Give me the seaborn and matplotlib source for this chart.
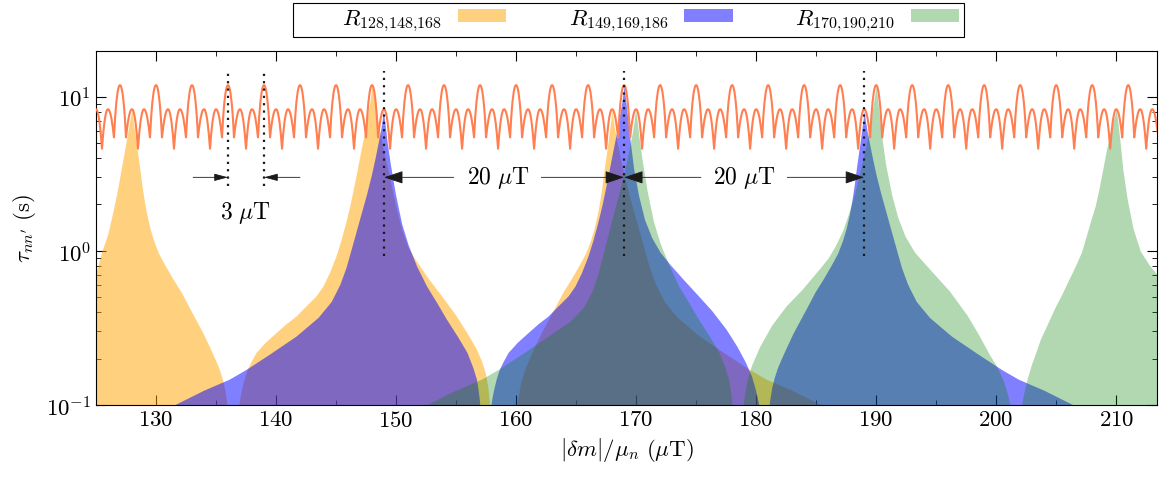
import numpy as np
import matplotlib
matplotlib.use("Agg")
import matplotlib.pyplot as plt
from matplotlib.patches import ArrowStyle
from matplotlib.ticker import MultipleLocator, NullFormatter
import seaborn as sns

# boundary of each filled region, (|dm|/mu_n in uT, tau in s)
orange_pts = [
    # peak at 128
    (124.0, 0.43), (124.5, 0.55), (125.0, 0.72), (125.5, 1.0), (126.0, 1.3), (126.4, 1.78),
    (126.7, 2.3), (126.95, 2.92), (127.2, 3.75), (127.45, 4.8), (127.65, 5.9), (127.85, 7.2),
    (128.0, 8.3), (128.12, 6.8), (128.25, 5.7), (128.4, 4.7), (128.55, 3.9), (128.7, 3.2),
    (128.85, 2.6), (129.03, 2.1), (129.25, 1.7), (129.5, 1.4), (129.8, 1.17), (130.2, 0.97),
    (130.7, 0.82), (131.4, 0.66), (132.1, 0.54), (132.7, 0.44), (133.3, 0.36), (133.9, 0.295),
    (134.44, 0.24), (134.9, 0.2), (135.22, 0.175), (135.5, 0.15), (135.7, 0.13), (135.85, 0.11),
    (135.95, 0.095), (136.1, 0.01),
    # peak at 148
    (136.7, 0.01), (136.8, 0.085), (136.9, 0.1), (137.0, 0.112), (137.15, 0.128), (137.35, 0.148),
    (137.6, 0.17), (137.9, 0.19), (138.33, 0.219), (139.1, 0.255), (140.0, 0.295), (140.8, 0.335),
    (141.67, 0.378), (142.5, 0.44), (143.33, 0.51), (143.9, 0.59), (144.44, 0.72), (145.0, 0.93),
    (145.4, 1.17), (145.8, 1.52), (146.17, 2.0), (146.6, 2.9), (147.0, 4.2), (147.3, 5.5),
    (147.55, 7.0), (147.8, 9.1), (148.0, 11.8), (148.15, 10.1), (148.45, 7.2), (149.0, 4.3),
    (149.5, 2.9), (150.0, 1.9), (150.5, 1.35), (151.0, 1.05), (151.6, 0.88), (152.7, 0.66),
    (153.8, 0.51), (154.9, 0.39), (155.9, 0.295), (156.7, 0.23), (157.15, 0.19), (157.45, 0.16),
    (157.65, 0.13), (157.75, 0.11), (157.85, 0.095), (157.95, 0.01),
    # peak at 168
    (159.9, 0.01), (160.05, 0.095), (160.15, 0.11), (160.3, 0.13), (160.5, 0.15), (160.78, 0.175),
    (161.1, 0.2), (161.56, 0.24), (162.1, 0.295), (162.7, 0.36), (163.3, 0.44), (163.9, 0.54),
    (164.6, 0.66), (165.3, 0.82), (165.8, 0.97), (166.2, 1.17), (166.5, 1.4), (166.75, 1.7),
    (166.97, 2.1), (167.15, 2.6), (167.3, 3.2), (167.45, 3.9), (167.6, 4.7), (167.75, 5.7),
    (167.88, 6.8), (168.0, 8.3), (168.1, 7.1), (168.24, 6.0), (168.44, 5.0), (168.69, 4.0),
    (169.0, 3.1), (169.39, 2.35), (169.94, 1.65), (170.5, 1.15), (171.11, 0.78), (171.61, 0.61),
    (172.0, 0.53), (172.34, 0.47), (173.44, 0.37), (175.27, 0.28), (177.44, 0.215), (179.44, 0.17),
    (180.84, 0.147), (182.94, 0.125), (185.44, 0.1), (186.44, 0.095),
]
blue_pts = [
    # peak at 149
    (130.5, 0.095), (131.5, 0.1), (134.0, 0.125), (136.1, 0.147), (137.5, 0.17), (139.5, 0.215),
    (141.67, 0.28), (143.5, 0.37), (144.6, 0.47), (144.94, 0.53), (145.33, 0.61), (145.83, 0.78),
    (146.44, 1.15), (147.0, 1.65), (147.55, 2.35), (147.94, 3.1), (148.25, 4.0), (148.5, 5.0),
    (148.7, 6.0), (148.84, 7.0), (148.94, 8.1), (149.0, 7.5), (149.09, 6.6), (149.24, 5.2),
    (149.5, 3.75), (149.92, 2.4), (150.19, 1.9), (150.47, 1.5), (151.0, 1.1), (151.7, 0.8),
    (152.55, 0.59), (153.4, 0.46), (154.2, 0.36), (155.1, 0.28), (155.9, 0.22), (156.4, 0.175),
    (156.7, 0.147), (156.84, 0.125), (156.94, 0.108), (157.0, 0.095), (157.15, 0.01),
    # peak at 169
    (157.7, 0.01), (157.8, 0.085), (157.9, 0.1), (158.0, 0.112), (158.15, 0.128), (158.35, 0.148),
    (158.6, 0.17), (158.9, 0.19), (159.33, 0.219), (160.1, 0.255), (161.0, 0.295), (161.8, 0.335),
    (162.67, 0.378), (163.5, 0.44), (164.33, 0.51), (164.9, 0.59), (165.44, 0.72), (166.0, 0.93),
    (166.4, 1.17), (166.8, 1.52), (167.17, 2.0), (167.6, 2.9), (168.0, 4.2), (168.3, 5.5),
    (168.55, 7.0), (168.8, 9.1), (169.0, 11.8), (169.15, 9.2), (169.3, 7.3), (169.5, 5.2),
    (169.8, 3.4), (170.2, 2.3), (170.7, 1.6), (171.3, 1.22), (172.0, 0.98), (172.8, 0.82),
    (173.8, 0.67), (175.0, 0.53), (176.3, 0.41), (177.5, 0.31), (178.4, 0.24), (179.1, 0.19),
    (179.6, 0.155), (179.95, 0.125), (180.15, 0.107), (180.3, 0.095), (180.45, 0.01),
    # peak at 189
    (180.9, 0.01), (181.05, 0.095), (181.15, 0.11), (181.3, 0.13), (181.5, 0.15), (181.78, 0.175),
    (182.1, 0.2), (182.56, 0.24), (183.1, 0.295), (183.7, 0.36), (184.3, 0.44), (184.9, 0.54),
    (185.6, 0.66), (186.3, 0.82), (186.8, 0.97), (187.2, 1.17), (187.5, 1.4), (187.75, 1.7),
    (187.97, 2.1), (188.15, 2.6), (188.3, 3.2), (188.45, 3.9), (188.6, 4.7), (188.75, 5.7),
    (188.88, 6.8), (189.0, 8.1), (189.1, 7.0), (189.24, 6.0), (189.44, 5.0), (189.69, 4.0),
    (190.0, 3.1), (190.39, 2.35), (190.94, 1.65), (191.5, 1.15), (192.11, 0.78), (192.61, 0.61),
    (193.0, 0.53), (193.34, 0.47), (194.44, 0.37), (196.27, 0.28), (198.44, 0.215), (200.44, 0.17),
    (201.84, 0.147), (203.94, 0.125), (206.44, 0.1), (207.44, 0.095),
]
green_pts = [
    # peak at 170
    (151.5, 0.095), (152.51, 0.1), (155.01, 0.125), (157.11, 0.147), (158.51, 0.17), (160.51, 0.215),
    (162.68, 0.28), (164.51, 0.35), (165.61, 0.43), (165.95, 0.48), (166.34, 0.55), (166.84, 0.72),
    (167.45, 1.1), (168.01, 1.62), (168.56, 2.35), (168.95, 3.1), (169.26, 4.0), (169.51, 5.0),
    (169.71, 6.0), (169.85, 7.1), (169.95, 8.3), (170.02, 7.7), (170.1, 6.8), (170.25, 5.4),
    (170.5, 3.9), (170.9, 2.5), (171.15, 2.0), (171.45, 1.55), (172.0, 1.12), (172.7, 0.82),
    (173.55, 0.59), (174.4, 0.46), (175.2, 0.36), (176.1, 0.28), (176.9, 0.22), (177.4, 0.175),
    (177.7, 0.147), (177.85, 0.125), (177.95, 0.108), (178.02, 0.095), (178.2, 0.01),
    # peak at 190
    (178.7, 0.01), (178.85, 0.09), (178.95, 0.105), (179.1, 0.125), (179.3, 0.15), (179.6, 0.18),
    (180.3, 0.24), (181.3, 0.33), (182.5, 0.44), (183.8, 0.56), (185.3, 0.77), (186.0, 0.9),
    (186.6, 1.08), (187.2, 1.35), (187.7, 1.75), (188.2, 2.35), (188.7, 3.4), (189.1, 4.6),
    (189.45, 6.4), (189.75, 8.8), (190.0, 11.8), (190.1, 10.0), (190.2, 8.4), (190.45, 5.6),
    (190.8, 3.6), (191.3, 2.3), (191.8, 1.65), (192.4, 1.25), (193.2, 0.98), (194.6, 0.74),
    (196.1, 0.55), (197.6, 0.38), (198.6, 0.28), (199.4, 0.215), (200.0, 0.18), (200.5, 0.15),
    (200.85, 0.125), (201.05, 0.108), (201.2, 0.095), (201.35, 0.01),
    # peak at 210
    (201.9, 0.01), (202.05, 0.09), (202.15, 0.105), (202.35, 0.125), (202.6, 0.15), (202.9, 0.18),
    (203.3, 0.22), (203.7, 0.27), (204.3, 0.34), (204.9, 0.43), (205.5, 0.53), (206.0, 0.64),
    (206.6, 0.8), (207.1, 0.98), (207.5, 1.25), (207.9, 1.6), (208.25, 1.96), (208.55, 2.5),
    (208.85, 3.3), (209.2, 4.6), (209.5, 5.8), (209.75, 7.0), (209.9, 7.7), (210.0, 8.3),
    (210.12, 7.0), (210.3, 5.3), (210.55, 3.4), (210.9, 2.2), (211.4, 1.4), (212.0, 1.0),
    (212.7, 0.82), (213.4, 0.7), (214.5, 0.55),
]
labels = [r"$\hspace{2.2}R_{128{,}148{,}168}$", r"$\hspace{2.2}R_{149{,}169{,}186}$",
          r"$\hspace{2.2}R_{170{,}190{,}210}$"]

# one period (3 uT, starting on a tall peak) of the oscillating curve, sampled every 0.05 uT
period_tau = [
    11.9, 11.82, 11.58, 11.2, 10.67, 10.0, 9.24, 8.38, 7.44, 6.46,
    5.45, 5.9, 6.33, 6.74, 7.13, 7.47, 7.76, 7.99, 8.16, 8.27,
    8.3, 8.26, 8.12, 7.9, 7.59, 7.22, 6.78, 6.28, 5.74, 5.18,
    4.6, 5.18, 5.74, 6.28, 6.78, 7.22, 7.59, 7.9, 8.12, 8.26,
    8.3, 8.27, 8.16, 7.99, 7.76, 7.47, 7.13, 6.74, 6.33, 5.9,
    5.45, 6.46, 7.44, 8.38, 9.24, 10.0, 10.67, 11.2, 11.58, 11.82,
]
period_start = 124.0
period_len = 3.0
n_periods = 31

short_marks = [136, 139]
long_marks = [149, 169, 189]

sns.set_theme(style="ticks", rc={
    "axes.edgecolor": "black", "axes.linewidth": 0.8,
    "xtick.color": "black", "ytick.color": "black", "text.color": "black",
    "axes.labelcolor": "black",
})
plt.rcParams.update({
    "font.family": "serif", "font.serif": ["cmr10", "DejaVu Serif"],
    "mathtext.fontset": "cm", "axes.formatter.use_mathtext": True,
})

fig, ax = plt.subplots(figsize=(11.59, 4.81), dpi=100)
fig.subplots_adjust(left=0.0828, right=0.9983, bottom=0.156, top=0.8925)

cols = [("orange", 0.5), ("blue", 0.5), ("green", 0.3)]
handles = []
for pts, (c, a), lab in zip([orange_pts, blue_pts, green_pts], cols, labels):
    xs, ys = zip(*pts)
    h = ax.fill_between(xs, 0.01, ys, color=c, alpha=a, lw=0, label=lab, zorder=1)
    handles.append(h)

# tile the periodic curve
step = period_len / len(period_tau)
line_x = [period_start + k * period_len + i * step for k in range(n_periods) for i in range(len(period_tau))]
line_y = period_tau * n_periods
sns.lineplot(x=line_x, y=line_y, ax=ax, color="coral", lw=1.5, estimator=None, sort=False, zorder=3)

for xm in short_marks:
    ax.plot([xm, xm], [2.65, 14.8], color="k", lw=1.6, ls=(0, (1, 2.3)), zorder=4)
for xm in long_marks:
    ax.plot([xm, xm], [0.92, 14.8], color="k", lw=1.6, ls=(0, (1, 2.3)), zorder=4)

small = ArrowStyle("-|>", head_length=0.6, head_width=0.16)
big = ArrowStyle("-|>", head_length=0.6, head_width=0.2)
arr_y = 3.0
def arrow(x0, x1, style, ms):
    ax.annotate("", xy=(x1, arr_y), xytext=(x0, arr_y),
                arrowprops=dict(arrowstyle=style, color="k", lw=0.6, mutation_scale=ms,
                                shrinkA=0, shrinkB=0), zorder=5)

arrow(133.1, 136, small, 14)
arrow(142.0, 139, small, 14)
ax.text(137.5, 1.78, r"$3\ \mu\mathrm{T}$", fontsize=17, ha="center", va="center")

arrow(154.8, 149, big, 20)
arrow(162.1, 169, big, 20)
ax.text(158.5, arr_y, r"$20\ \mu\mathrm{T}$", fontsize=17, ha="center", va="center")
arrow(175.4, 169, big, 20)
arrow(182.6, 189, big, 20)
ax.text(179.0, arr_y, r"$20\ \mu\mathrm{T}$", fontsize=17, ha="center", va="center")

ax.set_yscale("log")
ax.set_xlim(125, 213.4)
ax.set_ylim(0.1, 19.9)
ax.xaxis.set_major_locator(MultipleLocator(10))
ax.xaxis.set_minor_locator(MultipleLocator(5))
ax.yaxis.set_minor_formatter(NullFormatter())
ax.tick_params(which="both", direction="in", top=True, right=True, labelsize=16.5)
ax.tick_params(which="major", length=7, width=0.8)
ax.tick_params(which="minor", length=3.5, width=0.6)
for s in ax.spines.values():
    s.set_visible(True)

ax.set_xlabel(r"$|\delta m|/\mu_n\ (\mu\mathrm{T})$", fontsize=16.5, labelpad=4)
ax.set_ylabel(r"$\tau_{nn^\prime}\ (\mathrm{s})$", fontsize=16.5, labelpad=6)

leg = ax.legend(handles=handles, labels=labels, loc="center", bbox_to_anchor=(0.502, 1.087),
                ncol=3, markerfirst=False, fontsize=16.5, frameon=True, fancybox=False,
                edgecolor="black", framealpha=1, handlelength=2.1, handleheight=0.5,
                handletextpad=0.7, columnspacing=0.8, borderpad=0.2)
leg.get_frame().set_linewidth(0.8)

fig.savefig("out.png", dpi=100)
